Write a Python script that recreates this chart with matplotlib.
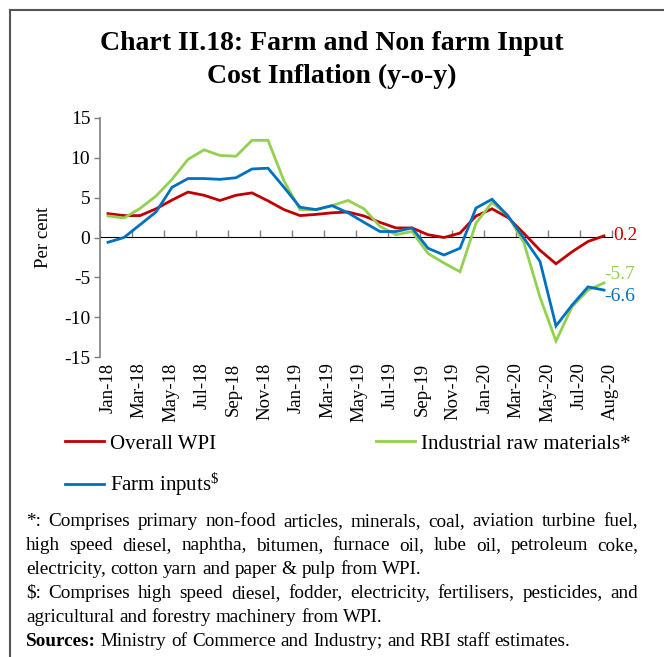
import matplotlib
matplotlib.use("Agg")
import matplotlib.pyplot as plt
from matplotlib.lines import Line2D
import numpy as np

plt.rcParams['font.family'] = ['Liberation Serif', 'DejaVu Serif']
plt.rcParams['mathtext.fontset'] = 'custom'
plt.rcParams['mathtext.rm'] = 'Liberation Serif'
plt.rcParams['mathtext.default'] = 'regular'

months = ["Jan-18", "Feb-18", "Mar-18", "Apr-18", "May-18", "Jun-18", "Jul-18", "Aug-18",
          "Sep-18", "Oct-18", "Nov-18", "Dec-18", "Jan-19", "Feb-19", "Mar-19", "Apr-19",
          "May-19", "Jun-19", "Jul-19", "Aug-19", "Sep-19", "Oct-19", "Nov-19", "Dec-19",
          "Jan-20", "Feb-20", "Mar-20", "Apr-20", "May-20", "Jun-20", "Jul-20", "Aug-20"]

overall_wpi = [3.0, 2.75, 2.75, 3.6, 4.7, 5.7, 5.3, 4.65, 5.3, 5.6, 4.6, 3.5,
               2.75, 2.9, 3.1, 3.2, 2.7, 1.9, 1.2, 1.2, 0.35, 0.0, 0.55, 2.7,
               3.6, 2.5, 0.5, -1.6, -3.3, -1.8, -0.5, 0.2]

industrial_raw = [2.7, 2.45, 3.65, 5.2, 7.3, 9.8, 11.0, 10.3, 10.2, 12.2, 12.2, 7.1,
                  3.5, 3.5, 4.0, 4.65, 3.6, 1.4, 0.35, 0.75, -2.0, -3.2, -4.3, 1.8,
                  4.4, 2.75, -0.7, -7.5, -13.0, -8.7, -6.6, -5.7]

farm_inputs = [-0.6, 0.0, 1.6, 3.2, 6.3, 7.4, 7.4, 7.3, 7.5, 8.6, 8.7, 6.3,
               3.8, 3.5, 4.0, 3.1, 1.9, 0.75, 0.75, 1.2, -1.35, -2.2, -1.35, 3.7,
               4.8, 2.7, -0.1, -3.0, -11.1, -8.5, -6.2, -6.6]

tick_labels = ["Jan-18", "Mar-18", "May-18", "Jul-18", "Sep-18", "Nov-18", "Jan-19",
               "Mar-19", "May-19", "Jul-19", "Sep-19", "Nov-19", "Jan-20", "Mar-20",
               "May-20", "Jul-20", "Aug-20"]

RED = "#C00000"
GREEN = "#92D050"
BLUE = "#0070C0"
AXC = "#7f7f7f"

W, H = 664, 657
fig = plt.figure(figsize=(W / 100, H / 100), dpi=100)

def fx(px):
    return px / W

def fy(py):
    return 1 - py / H

ax = fig.add_axes([fx(100), fy(357), fx(612) - fx(100), fy(118) - fy(357)])
x = np.arange(len(months))
ax.plot(x, overall_wpi, color=RED, lw=2.0, solid_joinstyle='miter')
ax.plot(x, industrial_raw, color=GREEN, lw=2.0, solid_joinstyle='miter')
ax.plot(x, farm_inputs, color=BLUE, lw=2.0, solid_joinstyle='miter')

ax.set_xlim(-0.5, len(months) - 0.5)
ax.set_ylim(-15, 15)
ax.set_yticks([15, 10, 5, 0, -5, -10, -15])
ax.set_yticklabels(["15", "10", "5", "0", "-5", "-10", "-15"])
ax.tick_params(axis='y', direction='out', length=4, width=1, color=AXC, labelsize=14, pad=3)

for s in ['top', 'right', 'bottom']:
    ax.spines[s].set_visible(False)
ax.spines['left'].set_color(AXC)
ax.spines['left'].set_linewidth(1.2)

# category labels spread evenly along the axis, as in the source chart
label_pos = np.linspace(0, len(months) - 0.6, len(tick_labels))
ax.set_xticks(label_pos)
ax.set_xticklabels(tick_labels, rotation=90, fontsize=13.5)
ax.tick_params(axis='x', length=0, pad=4)

sec = ax.secondary_xaxis(0.5)
sec.set_xticks(np.arange(-0.5, len(months), 2))
sec.set_xticklabels([])
sec.tick_params(axis='x', direction='out', length=5, width=1, color=AXC)
sec.spines['bottom'].set_color(AXC)
sec.spines['bottom'].set_linewidth(1.2)

ax.set_ylabel("Per cent", fontsize=13.5, labelpad=9)

# end labels
ax.annotate(f"{overall_wpi[-1]:.1f}", (x[-1], overall_wpi[-1]), xytext=(7, 0),
            textcoords='offset points', color=RED, fontsize=14, va='center', ha='left')
ax.annotate(f"{industrial_raw[-1]:.1f}", (x[-1], industrial_raw[-1]), xytext=(0, 6.3),
            textcoords='offset points', color=GREEN, fontsize=14, va='center', ha='left')
ax.annotate(f"{farm_inputs[-1]:.1f}", (x[-1], farm_inputs[-1]), xytext=(0, -4.5),
            textcoords='offset points', color=BLUE, fontsize=14, va='center', ha='left')

# title
fig.text(0.5, fy(43), "Chart II.18: Farm and Non farm Input", ha='center', va='center',
         fontsize=20, fontweight='bold')
fig.text(0.5, fy(76), "Cost Inflation (y-o-y)", ha='center', va='center',
         fontsize=20, fontweight='bold')

# legend (two columns)
LFS = 15
leg1 = fig.legend([Line2D([], [], color=RED, lw=2.0), Line2D([], [], color=BLUE, lw=2.0)],
                  ["Overall WPI", r"Farm inputs$^{\$}$"], loc='upper left',
                  bbox_to_anchor=(fx(65), fy(434)), frameon=False, fontsize=LFS,
                  handlelength=1.85, handletextpad=0.3, labelspacing=0.85, borderpad=0,
                  borderaxespad=0)
leg2 = fig.legend([Line2D([], [], color=GREEN, lw=2.0)], ["Industrial raw materials*"],
                  loc='upper left', bbox_to_anchor=(fx(376), fy(434)), frameon=False,
                  fontsize=LFS, handlelength=1.85, handletextpad=0.3, borderpad=0,
                  borderaxespad=0)

# footnotes
renderer = fig.canvas.get_renderer()
FS = 13.8
LEFT, RIGHT = 26, 638

def measure(s, weight='normal'):
    t = fig.text(0, 0, s, fontsize=FS, fontweight=weight)
    w = t.get_window_extent(renderer).width
    t.remove()
    return w

SPACE = measure("a a") - measure("aa")

def line_words(words, ypx, justify, bold_first=False):
    texts, widths = [], []
    for i, w in enumerate(words):
        t = fig.text(0, fy(ypx), w, fontsize=FS, va='center', ha='left',
                     fontweight='bold' if (bold_first and i == 0) else 'normal')
        widths.append(t.get_window_extent(renderer).width)
        texts.append(t)
    if justify and len(words) > 1:
        gap = (RIGHT - LEFT - sum(widths)) / (len(words) - 1)
    else:
        gap = SPACE
    xp = LEFT
    for t, w in zip(texts, widths):
        t.set_x(fx(xp))
        xp += w + gap

lines = [
    ("*: Comprises primary non-food articles, minerals, coal, aviation turbine fuel,", True),
    ("high speed diesel, naphtha, bitumen, furnace oil, lube oil, petroleum coke,", True),
    ("electricity, cotton yarn and paper & pulp from WPI.", False),
    ("$: Comprises high speed diesel, fodder, electricity, fertilisers, pesticides, and", True),
    ("agricultural and forestry machinery from WPI.", False),
]
y0 = 522
for i, (ln, j) in enumerate(lines):
    line_words(ln.replace("$", r"\$").split(" "), y0 + i * 23.8, j)
line_words("Sources: Ministry of Commerce and Industry; and RBI staff estimates.".split(" "),
           y0 + 5 * 23.8, False, bold_first=True)

# frame lines
fig.add_artist(Line2D([fx(10), 1], [fy(10), fy(10)], transform=fig.transFigure,
                      color="#555555", lw=1.5))
fig.add_artist(Line2D([fx(10), fx(10)], [fy(10), 0], transform=fig.transFigure,
                      color="#555555", lw=1.5))

fig.savefig("out.png", dpi=100)
